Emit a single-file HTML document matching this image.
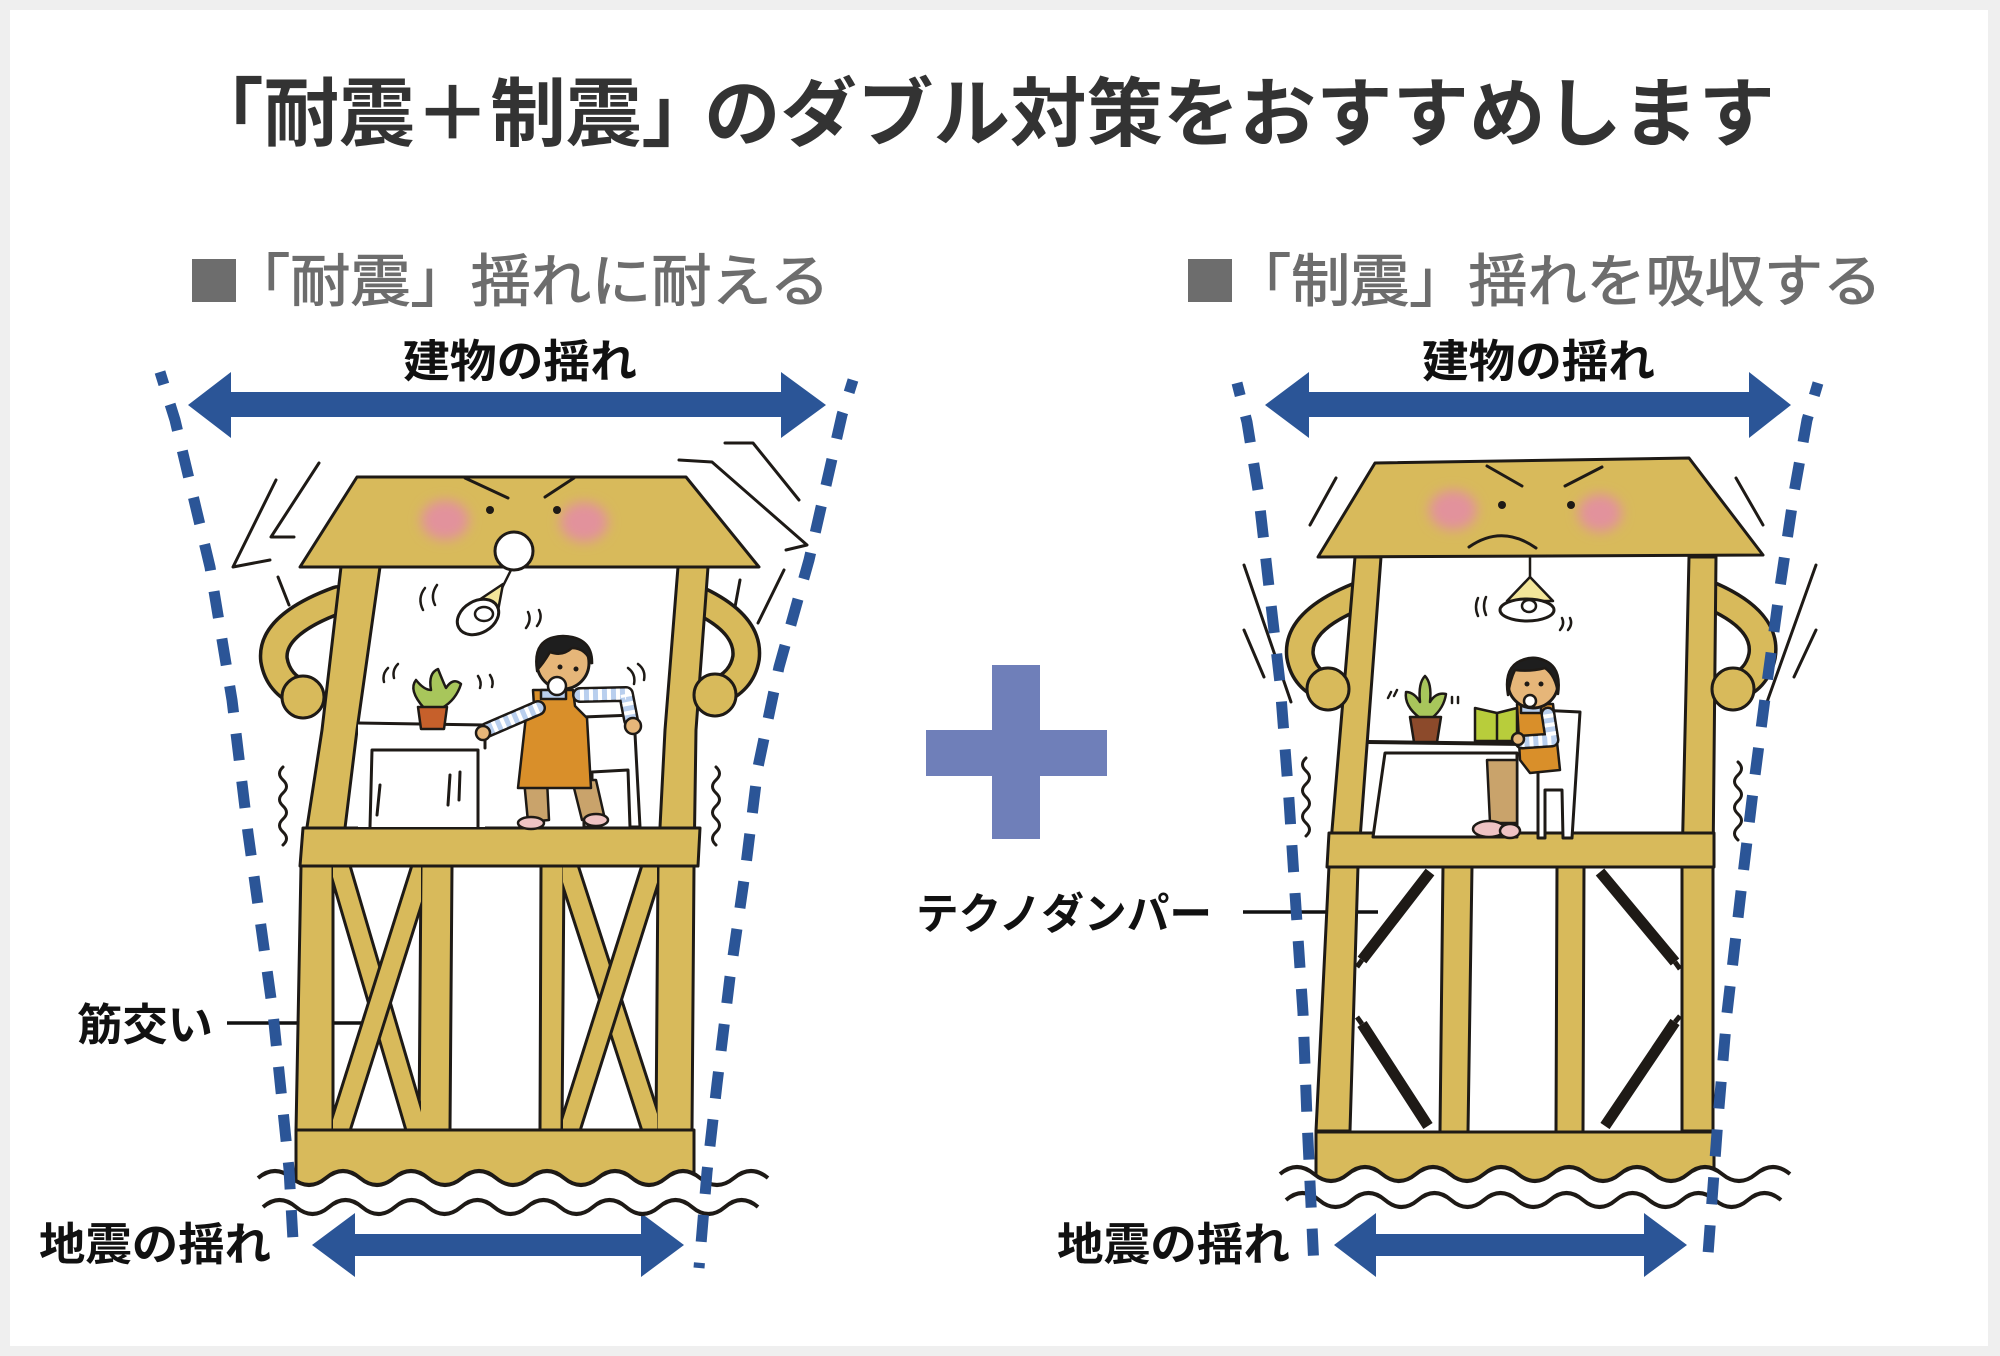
<!DOCTYPE html>
<html><head><meta charset="utf-8"><style>
html,body{margin:0;padding:0;background:#efefef;}
svg{display:block;}
text{font-family:"Liberation Sans","Noto Sans CJK JP",sans-serif;}
</style></head><body>
<svg width="2000" height="1356" viewBox="0 0 2000 1356" xmlns="http://www.w3.org/2000/svg">
<defs>
<filter id="blur" x="-50%" y="-50%" width="200%" height="200%"><feGaussianBlur stdDeviation="6"/></filter>
<clipPath id="bayL1"><rect x="333" y="866" width="88" height="264"/></clipPath>
<clipPath id="bayL2"><rect x="563" y="866" width="94" height="264"/></clipPath>
</defs>
<rect width="2000" height="1356" fill="#efefef"/>
<rect x="10" y="10" width="1978" height="1336" fill="#ffffff"/>

<!-- Title -->
<text x="188" y="140" font-size="75" font-weight="bold" fill="#333" textLength="529" lengthAdjust="spacingAndGlyphs">「耐震＋制震」</text>
<text x="704" y="140" font-size="75" font-weight="bold" fill="#333" textLength="1071" lengthAdjust="spacingAndGlyphs">のダブル対策をおすすめします</text>
<rect x="192" y="259" width="44" height="43" fill="#6d6d6d"/>
<rect x="1188" y="259" width="44" height="43" fill="#6d6d6d"/>
<text x="230" y="301" font-size="57" fill="#6d6d6d" stroke="#6d6d6d" stroke-width="1.1" textLength="600" lengthAdjust="spacingAndGlyphs">「耐震」揺れに耐える</text>
<text x="1232" y="301" font-size="57" fill="#6d6d6d" stroke="#6d6d6d" stroke-width="1.1" textLength="650" lengthAdjust="spacingAndGlyphs">「制震」揺れを吸収する</text>
<text x="403" y="377" font-size="45" font-weight="bold" fill="#111" textLength="234" lengthAdjust="spacingAndGlyphs">建物の揺れ</text>
<text x="1422" y="377" font-size="45" font-weight="bold" fill="#111" textLength="233" lengthAdjust="spacingAndGlyphs">建物の揺れ</text>
<text x="77" y="1040" font-size="44" font-weight="bold" fill="#111" textLength="136" lengthAdjust="spacingAndGlyphs">筋交い</text>
<text x="39" y="1260" font-size="45" font-weight="bold" fill="#111" textLength="232" lengthAdjust="spacingAndGlyphs">地震の揺れ</text>
<text x="1057" y="1260" font-size="45" font-weight="bold" fill="#111" textLength="233" lengthAdjust="spacingAndGlyphs">地震の揺れ</text>
<text x="916" y="929" font-size="43" font-weight="bold" fill="#111" textLength="296" lengthAdjust="spacingAndGlyphs">テクノダンパー</text>

<!-- leader lines -->
<line x1="227" y1="1023" x2="364" y2="1023" stroke="#111" stroke-width="3.5"/>
<line x1="1243" y1="912" x2="1378" y2="912" stroke="#111" stroke-width="3.5"/>

<!-- arrows -->
<g fill="#2b5597">
<polygon points="188,405 231,372 231,392 781,392 781,372 826,405 781,438 781,417 231,417 231,438"/>
<polygon points="1265,405 1309,372 1309,392 1749,392 1749,372 1791,405 1749,438 1749,417 1309,417 1309,438"/>
<polygon points="312,1245 355,1213 355,1234 641,1234 641,1213 684,1245 641,1277 641,1256 355,1256 355,1277"/>
<polygon points="1334,1245 1376,1213 1376,1234 1644,1234 1644,1213 1687,1245 1644,1277 1644,1256 1376,1256 1376,1277"/>
</g>

<!-- plus -->
<rect x="992" y="665" width="48" height="174" fill="#6f7fb9"/>
<rect x="926" y="730" width="181" height="46" fill="#6f7fb9"/>

<!-- ================= LEFT BUILDING ================= -->
<g stroke="#1e1a16" stroke-width="3" fill="none" stroke-linecap="round" stroke-linejoin="round">
<polyline points="319,463 271,537 294,537"/>
<polyline points="276,480 233,567 270,560"/>
<line x1="278" y1="577" x2="289" y2="605"/>
<polyline points="725,443 753,443 799,500"/>
<polyline points="679,460 712,462 807,545 786,550"/>
<line x1="784" y1="570" x2="758" y2="623"/>
<line x1="740" y1="580" x2="735" y2="607"/>
<path d="M283,767 q-7,6.5 0,13 t0,13 t0,13 t0,13 t0,13 t0,13"/>
<path d="M716,767 q7,6.5 0,13 t0,13 t0,13 t0,13 t0,13 t0,13"/>
</g>

<!-- arms -->
<g fill="none" stroke-linecap="round" stroke-linejoin="round">
<path d="M338,600 Q270,625 274,660 Q278,684 302,694" stroke="#1e1a16" stroke-width="30"/>
<path d="M338,600 Q270,625 274,660 Q278,684 302,694" stroke="#d8ba5b" stroke-width="23"/>
<path d="M694,598 Q750,623 746,658 Q742,682 716,692" stroke="#1e1a16" stroke-width="30"/>
<path d="M694,598 Q750,623 746,658 Q742,682 716,692" stroke="#d8ba5b" stroke-width="23"/>
</g>

<g fill="#d8ba5b" stroke="#1e1a16" stroke-width="3" stroke-linejoin="round">
<polygon points="341,567 380,567 357,730 345,828 333,866 333,1131 296,1131 301,866 322,730"/>
<polygon points="678,567 708,567 696,730 694,866 692,1131 656,1131 658,866 665,730"/>
<polygon points="421,866 452,866 450,1130 419,1130"/>
<polygon points="541,866 564,866 562,1130 540,1130"/>
</g>
<g clip-path="url(#bayL1)" fill="none" stroke-linecap="butt">
<line x1="338" y1="862" x2="418" y2="1134" stroke="#1e1a16" stroke-width="24"/>
<line x1="338" y1="862" x2="418" y2="1134" stroke="#d8ba5b" stroke-width="18"/>
<line x1="424" y1="862" x2="338" y2="1134" stroke="#1e1a16" stroke-width="24"/>
<line x1="424" y1="862" x2="338" y2="1134" stroke="#d8ba5b" stroke-width="18"/>
</g>
<g clip-path="url(#bayL2)" fill="none" stroke-linecap="butt">
<line x1="566" y1="862" x2="654" y2="1134" stroke="#1e1a16" stroke-width="24"/>
<line x1="566" y1="862" x2="654" y2="1134" stroke="#d8ba5b" stroke-width="18"/>
<line x1="654" y1="862" x2="568" y2="1134" stroke="#1e1a16" stroke-width="24"/>
<line x1="654" y1="862" x2="568" y2="1134" stroke="#d8ba5b" stroke-width="18"/>
</g>
<g fill="#d8ba5b" stroke="#1e1a16" stroke-width="3" stroke-linejoin="round">
<polygon points="303,828 700,828 698,866 300,866"/>
<rect x="296" y="1130" width="398" height="56"/>
<polygon points="357,477 686,477 759,567 300,567"/>
</g>
<path d="M258,1178 q17,-14 34,0 t34,0 t34,0 t34,0 t34,0 t34,0 t34,0 t34,0 t34,0 t34,0 t34,0 t34,0 t34,0 t34,0 t34,0 L768,1196 L258,1196 Z" fill="#fff"/>
<path d="M258,1178 q17,-14 34,0 t34,0 t34,0 t34,0 t34,0 t34,0 t34,0 t34,0 t34,0 t34,0 t34,0 t34,0 t34,0 t34,0 t34,0" fill="none" stroke="#1e1a16" stroke-width="4"/>
<path d="M263,1207 q16.5,-14 33,0 t33,0 t33,0 t33,0 t33,0 t33,0 t33,0 t33,0 t33,0 t33,0 t33,0 t33,0 t33,0 t33,0 t33,0" fill="none" stroke="#1e1a16" stroke-width="4"/>

<circle cx="303" cy="697" r="21" fill="#d8ba5b" stroke="#1e1a16" stroke-width="3"/>
<circle cx="715" cy="695" r="21" fill="#d8ba5b" stroke="#1e1a16" stroke-width="3"/>

<!-- face left -->
<ellipse cx="445" cy="520" rx="24" ry="20" fill="#e2929c" filter="url(#blur)"/>
<ellipse cx="584" cy="522" rx="24" ry="20" fill="#e2929c" filter="url(#blur)"/>
<g stroke="#1e1a16" stroke-width="3" stroke-linecap="round">
<line x1="465" y1="478" x2="508" y2="498"/>
<line x1="574" y1="478" x2="545" y2="497"/>
</g>
<circle cx="490" cy="510" r="4" fill="#1e1a16"/>
<circle cx="557" cy="510" r="4" fill="#1e1a16"/>
<circle cx="514" cy="551" r="19" fill="#fff" stroke="#1e1a16" stroke-width="3"/>

<!-- lamp left -->
<g stroke="#1e1a16" stroke-width="2.5" stroke-linejoin="round" stroke-linecap="round">
<line x1="511" y1="570" x2="502" y2="588" fill="none"/>
<polygon points="503,584 476,602 497,616" fill="#f3e69a"/>
<ellipse cx="478" cy="617" rx="22" ry="16" transform="rotate(-30 478 617)" fill="#fff" stroke-width="3"/>
<ellipse cx="484" cy="614" rx="9" ry="7" fill="#fff"/>
<path d="M425,588 q-8,10 -2,22" fill="none"/>
<path d="M437,585 q-7,10 -2,20" fill="none"/>
<path d="M528,612 q4,8 -2,16" fill="none"/>
<path d="M539,610 q4,8 -2,16" fill="none"/>
<path d="M388,668 q-6,6 -4,14" fill="none"/>
<path d="M398,664 q-6,6 -4,14" fill="none"/>
<path d="M478,676 q4,6 2,12" fill="none"/>
<path d="M490,675 q4,6 2,12" fill="none"/>
<path d="M628,668 q8,6 6,16" fill="none"/>
<path d="M638,664 q8,6 6,16" fill="none"/>
</g>

<!-- table left -->
<g stroke="#1e1a16" stroke-width="3" stroke-linejoin="round" stroke-linecap="round">
<polygon points="358,723 485,725 485,827 358,827" fill="#fff" stroke="none"/>
<polyline points="358,723 485,725" fill="none"/>
<polyline points="370,827 372,750 478,750 478,827" fill="none"/>
<line x1="485" y1="725" x2="485" y2="748"/>
<line x1="450" y1="775" x2="448" y2="805"/>
<line x1="460" y1="772" x2="459" y2="800"/>
<line x1="380" y1="785" x2="377" y2="815"/>
</g>
<g stroke="#1e1a16" stroke-width="2.5" stroke-linejoin="round">
<path d="M424,708 Q408,690 416,680 Q424,690 431,690 Q428,673 438,669 Q444,684 446,688 Q453,677 461,684 Q456,700 442,708 Z" fill="#a8c65b"/>
<polygon points="418,707 447,707 444,729 421,729" fill="#c6602b"/>
</g>

<g stroke="#1e1a16" stroke-width="3" fill="#fff" stroke-linejoin="round">
<path d="M583,717 L634,715 L640,827 L630,827 L628,770 L592,772 L592,827 L584,827 Z"/>
</g>
<g stroke="#1e1a16" stroke-width="2.5" stroke-linejoin="round" stroke-linecap="round">
<polygon points="524,780 547,780 549,820 528,822" fill="#c9a36b"/>
<polygon points="572,780 596,780 604,815 582,820" fill="#c9a36b"/>
<ellipse cx="531" cy="823" rx="13" ry="6" fill="#efc3c3"/>
<ellipse cx="596" cy="820" rx="12" ry="6" fill="#efc3c3"/>
<path d="M533,690 L573,690 L575,706 L587,718 L591,788 L518,788 L526,716 L534,706 Z" fill="#d98f2a"/>
<rect x="541" y="690" width="25" height="9" fill="#b9cfee"/>
</g>
<g fill="none" stroke-linecap="round" stroke-linejoin="round">
<path d="M538,708 L487,730" stroke="#1e1a16" stroke-width="16"/>
<path d="M538,708 L487,730" stroke="#b9cfee" stroke-width="11"/>
<path d="M538,708 L487,730" stroke="#fff" stroke-width="11" stroke-dasharray="4 5" stroke-linecap="butt"/>
<path d="M580,695 L626,694 L631,720" stroke="#1e1a16" stroke-width="16"/>
<path d="M580,695 L626,694 L631,720" stroke="#b9cfee" stroke-width="11"/>
<path d="M580,695 L626,694 L631,720" stroke="#fff" stroke-width="11" stroke-dasharray="4 5" stroke-linecap="butt"/>
</g>
<g stroke="#1e1a16" stroke-width="2.5">
<circle cx="483" cy="733" r="7" fill="#e6b679"/>
<circle cx="633" cy="726" r="8" fill="#e6b679"/>
<circle cx="563" cy="663" r="26" fill="#e6b679" stroke-width="3"/>
<path d="M537,670 Q532,637 563,636 Q593,637 592,664 Q586,648 572,648 Q562,657 550,652 Q543,664 537,670 Z" fill="#1e1e1e"/>
<circle cx="560" cy="667" r="2.5" fill="#1e1a16" stroke="none"/>
<circle cx="576" cy="669" r="2.5" fill="#1e1a16" stroke="none"/>
<circle cx="557" cy="686" r="9" fill="#fff"/>
</g>

<!-- ================= RIGHT BUILDING ================= -->
<g stroke="#1e1a16" stroke-width="3" fill="none" stroke-linecap="round">
<line x1="1336" y1="478" x2="1310" y2="525"/>
<line x1="1244" y1="565" x2="1291" y2="702"/>
<line x1="1244" y1="630" x2="1264" y2="677"/>
<line x1="1736" y1="478" x2="1763" y2="525"/>
<line x1="1816" y1="565" x2="1767" y2="702"/>
<line x1="1816" y1="630" x2="1794" y2="677"/>
<path d="M1306,758 q-7,6.5 0,13 t0,13 t0,13 t0,13 t0,13 t0,13"/>
<path d="M1738,762 q7,6.5 0,13 t0,13 t0,13 t0,13 t0,13 t0,13"/>
</g>
<g fill="none" stroke-linecap="round" stroke-linejoin="round">
<path d="M1358,596 Q1296,621 1300,656 Q1304,680 1328,688" stroke="#1e1a16" stroke-width="30"/>
<path d="M1358,596 Q1296,621 1300,656 Q1304,680 1328,688" stroke="#d8ba5b" stroke-width="23"/>
<path d="M1712,596 Q1768,621 1762,656 Q1757,680 1733,688" stroke="#1e1a16" stroke-width="30"/>
<path d="M1712,596 Q1768,621 1762,656 Q1757,680 1733,688" stroke="#d8ba5b" stroke-width="23"/>
</g>
<g fill="#d8ba5b" stroke="#1e1a16" stroke-width="3" stroke-linejoin="round">
<polygon points="1355,557 1381,557 1358,866 1350,1131 1316,1131 1329,866"/>
<polygon points="1689,557 1716,557 1713,866 1713,1131 1682,1131 1682,866"/>
<polygon points="1443,866 1472,866 1468,1132 1440,1132"/>
<polygon points="1557,866 1584,866 1583,1132 1556,1132"/>
<polygon points="1329,833 1714,833 1714,867 1327,867"/>
<rect x="1316" y="1132" width="398" height="50"/>
<polygon points="1375,463 1689,458 1763,555 1318,557"/>
</g>
<g stroke-linecap="butt">
<line x1="1430" y1="872" x2="1362" y2="960" stroke="#1e1a16" stroke-width="11"/>
<line x1="1362" y1="1024" x2="1428" y2="1126" stroke="#1e1a16" stroke-width="11"/>
<line x1="1600" y1="872" x2="1675" y2="962" stroke="#1e1a16" stroke-width="11"/>
<line x1="1675" y1="1022" x2="1605" y2="1126" stroke="#1e1a16" stroke-width="11"/>
<line x1="1362" y1="960" x2="1357" y2="967" stroke="#1e1a16" stroke-width="5"/>
<line x1="1362" y1="1024" x2="1357" y2="1017" stroke="#1e1a16" stroke-width="5"/>
<line x1="1675" y1="962" x2="1680" y2="969" stroke="#1e1a16" stroke-width="5"/>
<line x1="1675" y1="1022" x2="1680" y2="1016" stroke="#1e1a16" stroke-width="5"/>
</g>
<path d="M1280,1174 q17,-14 34,0 t34,0 t34,0 t34,0 t34,0 t34,0 t34,0 t34,0 t34,0 t34,0 t34,0 t34,0 t34,0 t34,0 t34,0 L1790,1190 L1280,1190 Z" fill="#fff"/>
<path d="M1280,1174 q17,-14 34,0 t34,0 t34,0 t34,0 t34,0 t34,0 t34,0 t34,0 t34,0 t34,0 t34,0 t34,0 t34,0 t34,0 t34,0" fill="none" stroke="#1e1a16" stroke-width="4"/>
<path d="M1286,1200 q16.5,-14 33,0 t33,0 t33,0 t33,0 t33,0 t33,0 t33,0 t33,0 t33,0 t33,0 t33,0 t33,0 t33,0 t33,0 t33,0" fill="none" stroke="#1e1a16" stroke-width="4"/>

<circle cx="1328" cy="689" r="21" fill="#d8ba5b" stroke="#1e1a16" stroke-width="3"/>
<circle cx="1733" cy="689" r="21" fill="#d8ba5b" stroke="#1e1a16" stroke-width="3"/>

<ellipse cx="1453" cy="510" rx="24" ry="20" fill="#e2929c" filter="url(#blur)"/>
<ellipse cx="1600" cy="513" rx="22" ry="19" fill="#e2929c" filter="url(#blur)"/>
<g stroke="#1e1a16" stroke-width="3" stroke-linecap="round" fill="none">
<line x1="1487" y1="466" x2="1522" y2="486"/>
<line x1="1602" y1="467" x2="1565" y2="486"/>
<path d="M1469,547 Q1502,524 1536,548"/>
</g>
<circle cx="1502" cy="505" r="4" fill="#1e1a16"/>
<circle cx="1571" cy="505" r="4" fill="#1e1a16"/>

<g stroke="#1e1a16" stroke-width="2.5" stroke-linejoin="round" stroke-linecap="round">
<line x1="1530" y1="557" x2="1530" y2="578"/>
<polygon points="1530,577 1507,601 1553,601" fill="#f3e69a"/>
<ellipse cx="1527" cy="610" rx="27" ry="11" fill="#fff" stroke-width="3"/>
<ellipse cx="1529" cy="606" rx="7" ry="6" fill="#fff"/>
<path d="M1478,598 q-4,9 0,18" fill="none"/>
<path d="M1486,597 q-4,9 0,18" fill="none"/>
<path d="M1560,630 q5,-6 2,-12" fill="none"/>
<path d="M1568,630 q5,-6 2,-12" fill="none"/>
<path d="M1391,692 l-3,6 M1397,690 l-3,6" fill="none"/>
<path d="M1452,697 l0,6 M1458,697 l0,6" fill="none"/>
</g>

<g stroke="#1e1a16" stroke-width="3" stroke-linejoin="round" stroke-linecap="round">
<polygon points="1373,837 1385,753 1517,753 1517,837" fill="#fff"/>
<line x1="1368" y1="742" x2="1527" y2="744" stroke-width="4"/>
</g>
<g stroke="#1e1a16" stroke-width="2.5" stroke-linejoin="round">
<path d="M1420,718 Q1404,706 1406,692 Q1414,692 1420,702 Q1418,683 1425,676 Q1432,683 1430,702 Q1436,692 1446,694 Q1444,708 1432,718 Z" fill="#a8c65b"/>
<polygon points="1410,717 1441,717 1437,742 1414,742" fill="#8c4a2b"/>
</g>
<path d="M1538,710 L1580,712 L1572,838 L1563,838 L1562,790 L1545,790 L1545,838 L1538,838 Z" fill="#fff" stroke="#1e1a16" stroke-width="3" stroke-linejoin="round"/>
<g stroke="#1e1a16" stroke-width="2.5" stroke-linejoin="round" stroke-linecap="round">
<polygon points="1487,760 1517,760 1517,823 1490,823" fill="#c9a36b"/>
<ellipse cx="1489" cy="829" rx="16" ry="8" fill="#efc3c3"/>
<ellipse cx="1510" cy="831" rx="10" ry="7" fill="#efc3c3"/>
<path d="M1517,704 L1553,704 L1560,770 L1530,773 L1520,760 Z" fill="#d98f2a"/>
<rect x="1521" y="704" width="20" height="9" fill="#b9cfee"/>
</g>
<g fill="none" stroke-linecap="round" stroke-linejoin="round">
<path d="M1548,714 L1552,740 L1522,742" stroke="#1e1a16" stroke-width="15"/>
<path d="M1548,714 L1552,740 L1522,742" stroke="#b9cfee" stroke-width="10"/>
<path d="M1548,714 L1552,740 L1522,742" stroke="#fff" stroke-width="10" stroke-dasharray="4 5" stroke-linecap="butt"/>
</g>
<g stroke="#1e1a16" stroke-width="2.5" stroke-linejoin="round">
<polygon points="1475,708 1497,713 1517,708 1517,741 1475,741" fill="#b8cd3b"/>
<line x1="1497" y1="713" x2="1497" y2="741"/>
<circle cx="1518" cy="739" r="6" fill="#e6b679"/>
<circle cx="1533" cy="683" r="25" fill="#e6b679" stroke-width="3"/>
<path d="M1508,695 Q1502,660 1533,658 Q1563,660 1558,694 Q1556,676 1545,668 Q1530,672 1515,670 Q1510,680 1508,695 Z" fill="#1e1e1e"/>
<circle cx="1527" cy="684" r="2.5" fill="#1e1a16" stroke="none"/>
<circle cx="1541" cy="684" r="2.5" fill="#1e1a16" stroke="none"/>
<circle cx="1530" cy="701" r="6" fill="#fff"/>
</g>

<!-- dashed guide lines -->
<g fill="none" stroke="#2b5597" stroke-width="11" stroke-dasharray="27 21" stroke-dashoffset="14">
<polyline points="160,372 175,420 210,567 232,700 248,833 273,1013 289,1169 294,1258"/>
<polyline points="853,380 842,415 809,560 779,667 758,767 745,873 730,977 717,1084 707,1172 699,1268"/>
<polyline points="1237,383 1247,422 1258,490 1269,587 1280,683 1289,800 1294,878 1303,1013 1307,1119 1314,1268"/>
<polyline points="1818,383 1807,420 1794,493 1780,587 1767,683 1754,783 1742,883 1727,1013 1718,1119 1707,1268"/>
</g>
</svg>
</body></html>
